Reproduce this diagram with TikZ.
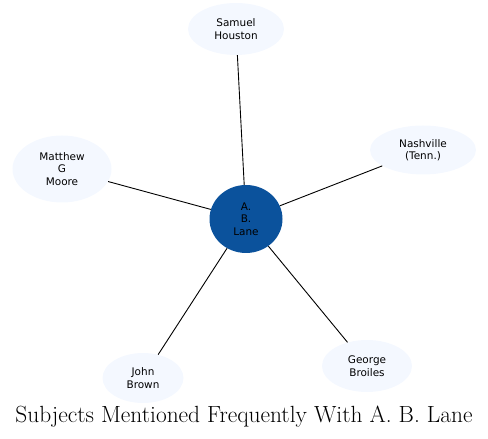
\documentclass[tikz,border=0pt]{standalone}
\usepackage{fontspec}
\newfontfamily\nodefont{DejaVu Sans}
\usepackage{tikz}
\usetikzlibrary{shapes.geometric}
\definecolor{SubjFill}{RGB}{244,248,255}
\definecolor{HubFill}{RGB}{11,82,156}

\begin{document}
\begin{tikzpicture}[x=1bp,y=1bp, every node/.style={font=\nodefont\fontsize{10.5}{12.5}\selectfont,align=center},
subj/.style={ellipse,fill=SubjFill,inner sep=0pt},
hub/.style={ellipse,fill=HubFill,inner sep=0pt,minimum width=73bp,minimum height=68bp},
link/.style={draw=black,line width=0.9bp}]
\useasboundingbox (0,0) rectangle (488,439);
\node[hub] (lane) at (246,220) {A.\\B.\\Lane};
\node[subj,minimum width=96bp,minimum height=52bp] (houston) at (236,410) {Samuel\\Houston};
\node[subj,minimum width=99bp,minimum height=67bp] (moore) at (62,270) {Matthew\\G\\Moore};
\node[subj,minimum width=106bp,minimum height=49bp] (nashville) at (423,289) {Nashville\\(Tenn.)};
\node[subj,minimum width=81bp,minimum height=50bp] (brown) at (143,61) {John\\Brown};
\node[subj,minimum width=90bp,minimum height=52bp] (broiles) at (367,73) {George\\Broiles};
\draw[link] (lane)--(houston);
\draw[link] (lane)--(moore);
\draw[link] (lane)--(nashville);
\draw[link] (lane)--(brown);
\draw[link] (lane)--(broiles);
\node[anchor=base,font=\rmfamily\fontsize{23.5}{28}\selectfont] (title) at (244,16) {Subjects Mentioned Frequently With A. B. Lane};
\end{tikzpicture}
\end{document}
